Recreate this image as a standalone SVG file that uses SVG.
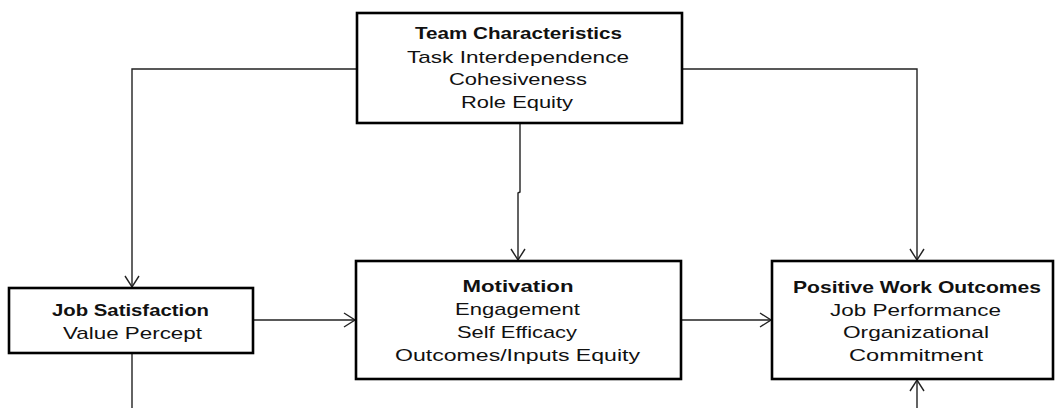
<svg xmlns="http://www.w3.org/2000/svg" width="1055" height="408" viewBox="0 0 1055 408">
<style>
.box{fill:#fff;stroke:#000;stroke-width:2.6}
.t{font-family:"Liberation Sans",Arial,sans-serif;font-size:17px;fill:#111;text-anchor:middle}
.b{font-weight:bold}
.c{fill:none;stroke:#222;stroke-width:1.4}
</style>
<defs>
<marker id="arr" viewBox="-13 -9 15 18" refX="0" refY="0" markerWidth="15" markerHeight="18" markerUnits="userSpaceOnUse" orient="auto">
<path d="M-11,-7 L0,0 L-11,7" fill="none" stroke="#222" stroke-width="1.4"/>
</marker>
</defs>
<rect width="1055" height="408" fill="#fff"/>
<g id="connectors">
<path class="c" d="M357,69 H132 V287" marker-end="url(#arr)"/>
<path class="c" d="M682,69 H917 V260" marker-end="url(#arr)"/>
<path class="c" d="M520,124 V192 L518,193 V260" marker-end="url(#arr)"/>
<path class="c" d="M254,320 H355" marker-end="url(#arr)"/>
<path class="c" d="M682,320 H771" marker-end="url(#arr)"/>
<path class="c" d="M132,354 V408"/>
<path class="c" d="M917,408 V380" marker-end="url(#arr)"/>
</g>
<g id="team">
<rect class="box" x="357" y="13" width="325" height="110"/>
<text class="t b" x="518.5" y="39" textLength="207" lengthAdjust="spacingAndGlyphs">Team Characteristics</text>
<text class="t" x="518" y="63" textLength="222" lengthAdjust="spacingAndGlyphs">Task Interdependence</text>
<text class="t" x="518" y="85" textLength="138" lengthAdjust="spacingAndGlyphs">Cohesiveness</text>
<text class="t" x="517" y="108" textLength="112" lengthAdjust="spacingAndGlyphs">Role Equity</text>
</g>
<g id="jobsat">
<rect class="box" x="9" y="288" width="244" height="65"/>
<text class="t b" x="130.5" y="316" textLength="157" lengthAdjust="spacingAndGlyphs">Job Satisfaction</text>
<text class="t" x="132.5" y="339" textLength="139" lengthAdjust="spacingAndGlyphs">Value Percept</text>
</g>
<g id="motivation">
<rect class="box" x="356" y="261" width="325" height="118"/>
<text class="t b" x="518" y="292" textLength="111" lengthAdjust="spacingAndGlyphs">Motivation</text>
<text class="t" x="517.5" y="315" textLength="125" lengthAdjust="spacingAndGlyphs">Engagement</text>
<text class="t" x="517" y="338" textLength="120" lengthAdjust="spacingAndGlyphs">Self Efficacy</text>
<text class="t" x="517.5" y="361" textLength="245" lengthAdjust="spacingAndGlyphs">Outcomes/Inputs Equity</text>
</g>
<g id="outcomes">
<rect class="box" x="772" y="261" width="281" height="118"/>
<text class="t b" x="917" y="293" textLength="248" lengthAdjust="spacingAndGlyphs">Positive Work Outcomes</text>
<text class="t" x="915.5" y="316" textLength="171" lengthAdjust="spacingAndGlyphs">Job Performance</text>
<text class="t" x="916" y="338" textLength="146" lengthAdjust="spacingAndGlyphs">Organizational</text>
<text class="t" x="916" y="361" textLength="134" lengthAdjust="spacingAndGlyphs">Commitment</text>
</g>
</svg>
